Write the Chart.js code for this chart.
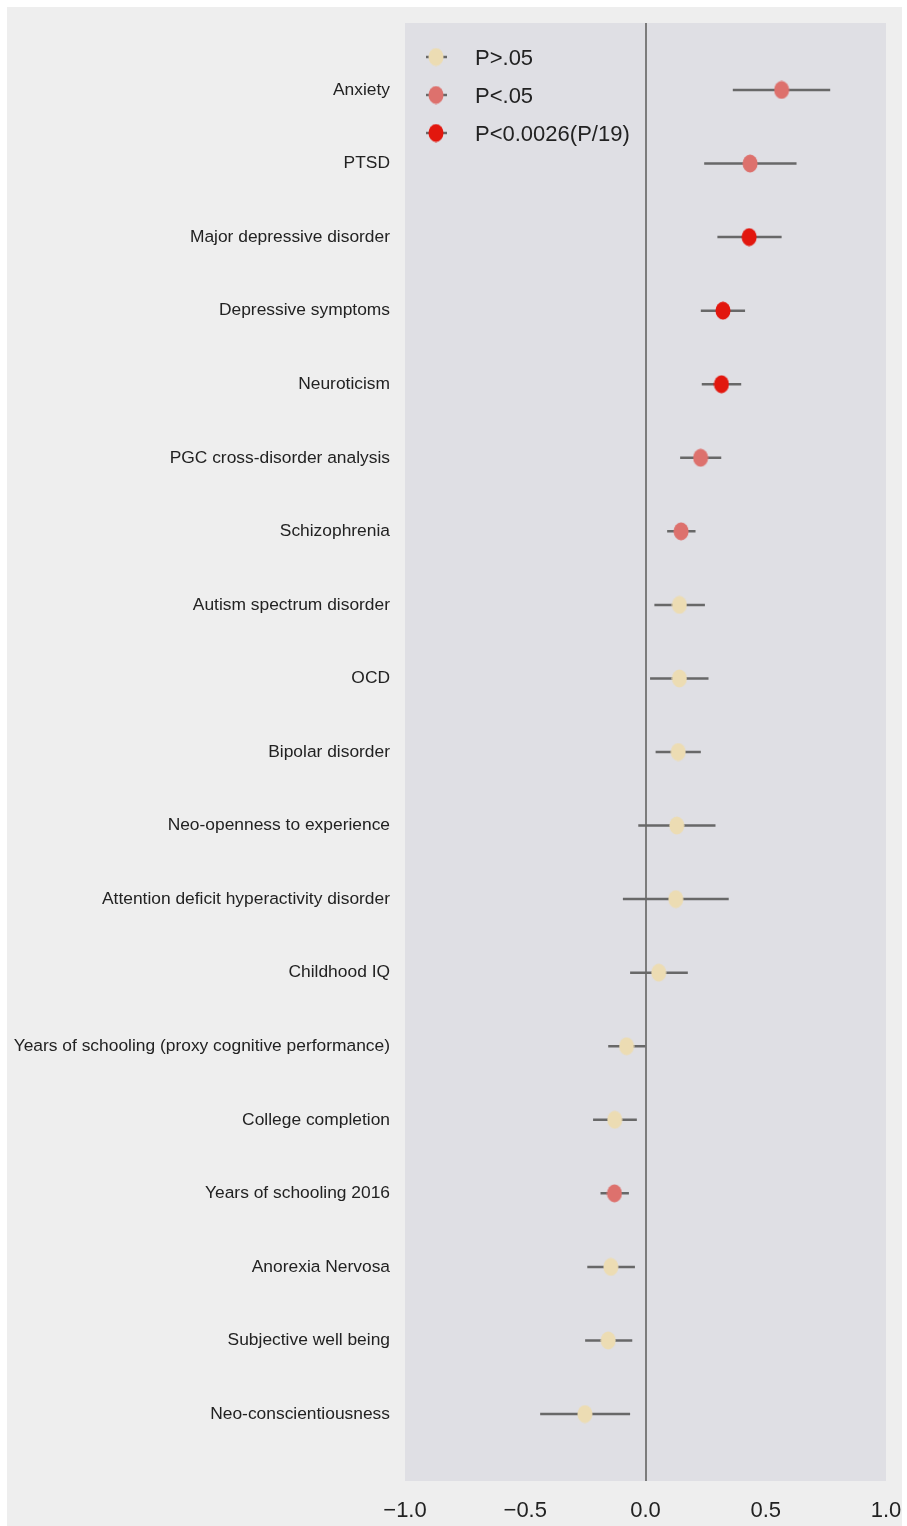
<!DOCTYPE html>
<html>
<head>
<meta charset="utf-8">
<script src="https://cdn.jsdelivr.net/npm/chart.js@4/dist/chart.umd.min.js"></script>
<style>
  html, body { margin: 0; padding: 0; background: #ffffff; }
  #wrap { position: absolute; left: 0; top: 0; width: 907px; height: 1526px; }
</style>
</head>
<body>
<div id="wrap"><canvas id="c" width="907" height="1526"></canvas></div>
<script>
// Genetic correlations (estimate with confidence interval) per trait
const categories = [
  "Anxiety",
  "PTSD",
  "Major depressive disorder",
  "Depressive symptoms",
  "Neuroticism",
  "PGC cross-disorder analysis",
  "Schizophrenia",
  "Autism spectrum disorder",
  "OCD",
  "Bipolar disorder",
  "Neo-openness to experience",
  "Attention deficit hyperactivity disorder",
  "Childhood IQ",
  "Years of schooling (proxy cognitive performance)",
  "College completion",
  "Years of schooling 2016",
  "Anorexia Nervosa",
  "Subjective well being",
  "Neo-conscientiousness"
];
const estimate = [0.566, 0.435, 0.431, 0.322, 0.316, 0.229, 0.148, 0.141, 0.141, 0.136, 0.130, 0.126, 0.055, -0.079, -0.128, -0.129, -0.144, -0.155, -0.252];
const lower    = [0.363, 0.244, 0.299, 0.230, 0.234, 0.144, 0.090, 0.037, 0.019, 0.042, -0.030, -0.094, -0.064, -0.155, -0.218, -0.187, -0.242, -0.251, -0.438];
const upper    = [0.768, 0.628, 0.566, 0.414, 0.398, 0.315, 0.208, 0.247, 0.262, 0.230, 0.291, 0.346, 0.176, 0.000, -0.036, -0.069, -0.044, -0.055, -0.064];
// 0 = P>.05, 1 = P<.05, 2 = P<0.0026 (Bonferroni for 19 tests)
const sigLevel = [1, 1, 2, 2, 2, 1, 1, 0, 0, 0, 0, 0, 0, 0, 0, 1, 0, 0, 0];
const groupNames  = ["P>.05", "P<.05", "P<0.0026(P/19)"];
const groupColors = ["#ecdcb3", "#dd716d", "#e2170e"];
const xTicks = [-1.0, -0.5, 0.0, 0.5, 1.0];

const FONT = '"Liberation Sans", Arial, Helvetica, sans-serif';
const BAR_COLOR = "#686868";

function makeDot(color, w, h) {
  const cv = document.createElement("canvas");
  cv.width = w; cv.height = h;
  const g = cv.getContext("2d");
  g.fillStyle = color;
  g.beginPath();
  g.ellipse(w / 2, h / 2, w / 2 - 0.5, h / 2 - 0.5, 0, 0, Math.PI * 2);
  g.fill();
  return cv;
}
const dots = groupColors.map(c => makeDot(c, 16, 19));

// Error bars: one segment per trait, separated by gaps
const barData = [];
categories.forEach((_, i) => {
  barData.push({ x: lower[i], y: i });
  barData.push({ x: upper[i], y: i });
  barData.push({ x: null, y: i });
});

const pointSets = groupNames.map((name, g) => ({
  label: name,
  data: categories.map((_, i) => i).filter(i => sigLevel[i] === g).map(i => ({ x: estimate[i], y: i })),
  pointStyle: dots[g],
  backgroundColor: groupColors[g],
  borderColor: groupColors[g],
  order: 0
}));

const backgroundPlugin = {
  id: "panels",
  beforeDraw(chart) {
    const ctx = chart.ctx, a = chart.chartArea;
    ctx.save();
    ctx.fillStyle = "#eeeeee";
    ctx.fillRect(7, 7, 895, 1519);
    ctx.fillStyle = "#dfdfe4";
    ctx.fillRect(a.left, a.top, a.right - a.left, a.bottom - a.top);
    ctx.restore();
  }
};

const legendPlugin = {
  id: "sigLegend",
  afterDraw(chart) {
    const ctx = chart.ctx, a = chart.chartArea;
    ctx.save();
    groupNames.forEach((name, g) => {
      const cx = a.left + 31, cy = a.top + 34 + g * 38;
      ctx.strokeStyle = BAR_COLOR;
      ctx.lineWidth = 2.5;
      ctx.beginPath();
      ctx.moveTo(cx - 10, cy); ctx.lineTo(cx + 11, cy);
      ctx.stroke();
      ctx.drawImage(dots[g], cx - 8, cy - 9.5);
      ctx.fillStyle = "#222222";
      ctx.font = "22px " + FONT;
      ctx.textBaseline = "middle";
      ctx.textAlign = "left";
      ctx.fillText(name, a.left + 70, cy + 2);
    });
    ctx.restore();
  }
};

new Chart(document.getElementById("c"), {
  type: "scatter",
  data: {
    datasets: [
      {
        label: "CI",
        data: barData,
        showLine: true,
        spanGaps: false,
        pointRadius: 0,
        borderColor: BAR_COLOR,
        borderWidth: 2.5,
        order: 1
      },
      ...pointSets
    ]
  },
  options: {
    responsive: false,
    animation: false,
    events: [],
    layout: { padding: { top: 23, right: 21, bottom: 0, left: 0 } },
    plugins: { legend: { display: false }, tooltip: { enabled: false } },
    scales: {
      x: {
        type: "linear",
        min: -1, max: 1,
        afterBuildTicks: s => { s.ticks = xTicks.map(v => ({ value: v })); },
        afterFit: s => { s.height = 45; s.paddingLeft = 0; s.paddingRight = 0; },
        border: { display: false },
        grid: {
          drawTicks: false,
          lineWidth: 2,
          color: c => (c.tick && c.tick.value === 0 ? "#7c7c7c" : "rgba(0,0,0,0)")
        },
        ticks: {
          padding: 17,
          color: "#222222",
          font: { family: FONT, size: 22 },
          callback: v => (v < 0 ? "\u2212" : "") + Math.abs(v).toFixed(1)
        }
      },
      y: {
        type: "linear",
        reverse: true,
        min: -0.91, max: 18.91,
        afterBuildTicks: s => { s.ticks = categories.map((_, i) => ({ value: i })); },
        afterFit: s => { s.width = 405; s.paddingTop = 0; s.paddingBottom = 0; },
        border: { display: false },
        grid: { display: false, drawTicks: false },
        ticks: {
          padding: 15,
          color: "#222222",
          font: { family: FONT, size: 17.4 },
          callback: v => categories[v]
        }
      }
    }
  },
  plugins: [backgroundPlugin, legendPlugin]
});
</script>
</body>
</html>
